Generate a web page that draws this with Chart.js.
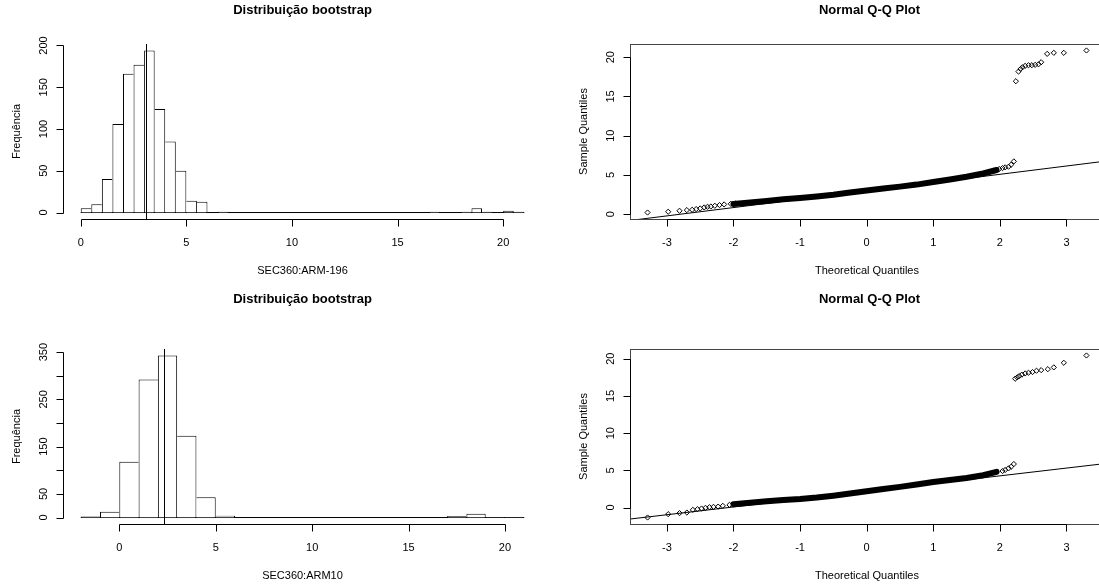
<!DOCTYPE html>
<html>
<head>
<meta charset="utf-8">
<title>Distribuição bootstrap</title>
<script src="https://cdn.jsdelivr.net/npm/chart.js@4.4.1/dist/chart.umd.min.js"></script>
<style>
html, body { margin: 0; padding: 0; background: #fff; width: 1099px; height: 586px; overflow: hidden; }
canvas { position: absolute; }
</style>
</head>
<body>
<canvas id="hist1" width="550" height="290" style="left:0px;top:0px"></canvas>
<canvas id="qq1" width="560" height="290" style="left:549px;top:0px"></canvas>
<canvas id="hist2" width="550" height="296" style="left:0px;top:290px"></canvas>
<canvas id="qq2" width="560" height="296" style="left:549px;top:290px"></canvas>
<script>
var fonteR = '"Liberation Sans", Arial, Helvetica, sans-serif';

// histograma SEC360:ARM-196 (classes de 0.5 a partir de 0)
var hist1Inicio = 0;
var hist1Largura = 0.5;
var hist1Contagens = [5, 10, 40, 106, 166, 177, 194, 124, 85, 50, 14, 13, 0, 1,
	0, 0, 0, 0, 0, 0, 0, 0, 0, 0, 0, 0, 0, 0, 0, 0, 0, 0, 0,
	1, 0, 0, 1, 5, 1, 0, 2, 1];
var hist1Media = 3.11;
var hist1XTicks = [0, 5, 10, 15, 20];
var hist1YTicks = [0, 50, 100, 150, 200];
var hist1YRotulos = ['0', '50', '100', '150', '200'];

// histograma SEC360:ARM10 (classes de 1 a partir de -2)
var hist2Inicio = -2;
var hist2Largura = 1;
var hist2Contagens = [2, 12, 118, 292, 343, 173, 43, 4,
	0, 0, 0, 0, 0, 0, 0, 0, 0, 0, 0,
	3, 8, 1, 1];
var hist2Media = 2.33;
var hist2XTicks = [0, 5, 10, 15, 20];
var hist2YTicks = [0, 50, 100, 150, 200, 250, 300, 350];
var hist2YRotulos = ['0', '50', '', '150', '', '250', '', '350'];

// Q-Q 1: pontos visiveis (caudas) e faixa densa do meio
var qq1X = [-3.29, -2.98, -2.81, -2.70, -2.62, -2.56, -2.50, -2.44, -2.39, -2.34, -2.28, -2.21, -2.14, -2.04, -1.97,
	1.99, 2.04, 2.08, 2.13, 2.17, 2.21,
	2.24, 2.28, 2.31, 2.34, 2.38, 2.43, 2.48, 2.53, 2.58, 2.62, 2.71, 2.81, 2.96, 3.30];
var qq1Y = [0.20, 0.30, 0.42, 0.51, 0.55, 0.64, 0.72, 0.85, 0.93, 0.97, 1.06, 1.15, 1.23, 1.31, 1.35,
	5.75, 5.87, 5.96, 6.04, 6.30, 6.72,
	16.94, 18.17, 18.50, 18.72, 18.90, 18.98, 18.98, 19.03, 19.10, 19.36, 20.43, 20.56, 20.56, 20.86];
var qq1FaixaX = [-2.0, -1.75, -1.5, -1.25, -1.0, -0.75, -0.5, -0.25, 0, 0.25, 0.5, 0.75, 1.0, 1.25, 1.5, 1.75, 1.95];
var qq1FaixaY = [1.30, 1.48, 1.68, 1.88, 2.05, 2.25, 2.47, 2.74, 3.00, 3.25, 3.50, 3.76, 4.08, 4.40, 4.76, 5.18, 5.62];
var qq1Intercepto = 2.95;
var qq1Inclinacao = 1.06;

// Q-Q 2
var qq2X = [-3.29, -2.98, -2.81, -2.70, -2.61, -2.54, -2.48, -2.42, -2.36, -2.30, -2.23, -2.16, -2.06, -1.95,
	2.04, 2.08, 2.13, 2.17, 2.21,
	2.23, 2.26, 2.29, 2.33, 2.38, 2.43, 2.49, 2.55, 2.62, 2.72, 2.81, 2.96, 3.30];
var qq2Y = [-1.34, -0.89, -0.75, -0.67, -0.31, -0.22, -0.13, -0.04, 0.05, 0.09, 0.13, 0.23, 0.36, 0.50,
	4.91, 5.05, 5.27, 5.49, 5.85,
	17.32, 17.50, 17.67, 17.86, 18.03, 18.12, 18.21, 18.39, 18.47, 18.60, 18.84, 19.46, 20.44];
var qq2FaixaX = [-2.0, -1.75, -1.5, -1.25, -1.0, -0.75, -0.5, -0.25, 0, 0.25, 0.5, 0.75, 1.0, 1.25, 1.5, 1.75, 1.95];
var qq2FaixaY = [0.45, 0.65, 0.85, 1.00, 1.15, 1.35, 1.60, 1.90, 2.20, 2.50, 2.78, 3.10, 3.43, 3.70, 3.98, 4.35, 4.80];
var qq2Intercepto = 2.17;
var qq2Inclinacao = 1.045;

var qqXTicks = [-3, -2, -1, 0, 1, 2, 3];
var qqYTicks = [0, 5, 10, 15, 20];

// eixos no estilo do R: linha so entre o primeiro e o ultimo tick, ticks para fora
var eixosR = {
	id: 'eixosR',
	afterDraw: function(chart, args, o){
		var ctx = chart.ctx;
		var area = chart.chartArea;
		var sx = chart.scales.x;
		var sy = chart.scales.y;
		var i, p;
		ctx.save();
		ctx.strokeStyle = '#000';
		ctx.fillStyle = '#000';
		ctx.lineWidth = 1;

		if(o.media != null){
			p = Math.round(sx.getPixelForValue(o.media)) + 0.5;
			ctx.beginPath();
			ctx.moveTo(p, area.top);
			ctx.lineTo(p, area.bottom);
			ctx.stroke();
		}
		if(o.caixa){
			ctx.strokeStyle = '#444';
			ctx.strokeRect(Math.round(area.left) + 0.5, Math.round(area.top) + 0.5,
				Math.round(area.right - area.left), Math.round(area.bottom - area.top));
			ctx.strokeStyle = '#000';
		}

		// eixo x
		var yb = Math.round(area.bottom) + 0.5;
		ctx.beginPath();
		ctx.moveTo(Math.round(sx.getPixelForValue(o.xTicks[0])) + 0.5, yb);
		ctx.lineTo(Math.round(sx.getPixelForValue(o.xTicks[o.xTicks.length - 1])) + 0.5, yb);
		for(i = 0; i < o.xTicks.length; i++){
			p = Math.round(sx.getPixelForValue(o.xTicks[i])) + 0.5;
			ctx.moveTo(p, yb);
			ctx.lineTo(p, yb + 7);
		}
		ctx.stroke();
		ctx.font = '11px ' + fonteR;
		ctx.textAlign = 'center';
		ctx.textBaseline = 'middle';
		for(i = 0; i < o.xTicks.length; i++){
			ctx.fillText(String(o.xTicks[i]), sx.getPixelForValue(o.xTicks[i]), yb + 23.5);
		}

		// eixo y
		var xl = Math.round(area.left) + 0.5;
		ctx.beginPath();
		ctx.moveTo(xl, Math.round(sy.getPixelForValue(o.yTicks[0])) + 0.5);
		ctx.lineTo(xl, Math.round(sy.getPixelForValue(o.yTicks[o.yTicks.length - 1])) + 0.5);
		for(i = 0; i < o.yTicks.length; i++){
			p = Math.round(sy.getPixelForValue(o.yTicks[i])) + 0.5;
			ctx.moveTo(xl, p);
			ctx.lineTo(xl - 7, p);
		}
		ctx.stroke();
		for(i = 0; i < o.yTicks.length; i++){
			var rot = o.yRotulos ? o.yRotulos[i] : String(o.yTicks[i]);
			if(rot === '') continue;
			ctx.save();
			ctx.translate(xl - 20, sy.getPixelForValue(o.yTicks[i]));
			ctx.rotate(-Math.PI / 2);
			ctx.fillText(rot, 0, 0);
			ctx.restore();
		}

		// titulos dos eixos
		ctx.fillText(o.xTitulo, (area.left + area.right) / 2, yb + 51.5);
		ctx.save();
		ctx.translate(xl - 47, (area.top + area.bottom) / 2);
		ctx.rotate(-Math.PI / 2);
		ctx.fillText(o.yTitulo, 0, 0);
		ctx.restore();
		ctx.restore();
	}
};

function montarLayout(pos){
	return {
		padding: {
			left: pos.plotL - pos.left,
			right: pos.left + pos.w - pos.plotR,
			top: 0,
			bottom: pos.top + pos.h - pos.plotB
		}
	};
}

function montarTitulo(texto, pos){
	return {
		display: true,
		text: texto,
		color: '#000',
		font: { family: fonteR, size: 13, weight: 'bold', lineHeight: 1.2 },
		padding: { top: pos.tituloY - pos.top - 7.8, bottom: pos.plotT - pos.tituloY - 7.8 }
	};
}

function criarHistograma(canvasId, pos, inicio, largura, contagens, media, xTicks, yTicks, yRotulos, xTitulo){
	var dados = [];
	for(var i = 0; i < contagens.length; i++){
		dados.push({ x: inicio + largura * (i + 0.5), y: contagens[i] });
	}
	var fim = inicio + largura * contagens.length;
	var maxC = Math.max.apply(null, contagens);
	var ext = 0.04 * (fim - inicio);

	var config = {};
	config.type = 'bar';
	config.data = {};
	config.data.datasets = [];
	config.data.datasets[0] = {
		type: 'bar',
		data: dados,
		backgroundColor: '#fff',
		borderColor: '#000',
		borderSkipped: false,
		inflateAmount: 0,
		barPercentage: 1,
		categoryPercentage: 1,
		// cada aresta comum desenhada uma vez so, pela barra mais alta
		borderWidth: function(c){
			var k = c.dataIndex;
			if(k === undefined) return 1;
			var atual = contagens[k];
			if(atual === 0) return 0;
			var ant = k > 0 ? contagens[k - 1] : 0;
			var prox = k < contagens.length - 1 ? contagens[k + 1] : 0;
			return { top: 1, bottom: 0, left: atual > ant ? 1 : 0, right: atual >= prox ? 1 : 0 };
		}
	};
	config.data.datasets[1] = {
		type: 'line',
		data: [{ x: inicio, y: 0 }, { x: fim, y: 0 }],
		borderColor: '#000',
		borderWidth: 1,
		pointRadius: 0
	};
	config.options = {
		responsive: false,
		animation: false,
		devicePixelRatio: 1,
		events: [],
		layout: montarLayout(pos),
		scales: {
			x: { type: 'linear', display: false, offset: false, min: inicio - ext, max: fim + ext, ticks: { stepSize: 1000 } },
			y: { type: 'linear', display: false, min: -0.04 * maxC, max: 1.04 * maxC }
		},
		plugins: {
			legend: { display: false },
			tooltip: { enabled: false },
			title: montarTitulo('Distribuição bootstrap', pos),
			eixosR: { xTicks: xTicks, yTicks: yTicks, yRotulos: yRotulos, xTitulo: xTitulo, yTitulo: 'Frequência', caixa: false, media: media }
		}
	};
	config.plugins = [eixosR];
	return new Chart(document.getElementById(canvasId), config);
}

function criarQQ(canvasId, pos, px, py, faixaX, faixaY, intercepto, inclinacao){
	var pontos = [], faixa = [], i;
	for(i = 0; i < px.length; i++) pontos.push({ x: px[i], y: py[i] });
	for(i = 0; i < faixaX.length; i++) faixa.push({ x: faixaX[i], y: faixaY[i] });
	var xmin = Math.min.apply(null, px), xmax = Math.max.apply(null, px);
	var ymin = Math.min.apply(null, py), ymax = Math.max.apply(null, py);
	var ex = 0.04 * (xmax - xmin), ey = 0.04 * (ymax - ymin);
	var x0 = xmin - ex, x1 = xmax + ex;

	var config = {};
	config.type = 'scatter';
	config.data = {};
	config.data.datasets = [];
	config.data.datasets[0] = {
		data: pontos,
		pointStyle: 'rectRot',
		pointRadius: 2.6,
		borderWidth: 1,
		borderColor: '#000',
		backgroundColor: 'rgba(0,0,0,0)'
	};
	config.data.datasets[1] = {
		data: faixa,
		showLine: true,
		borderColor: '#000',
		borderWidth: 6,
		borderCapStyle: 'round',
		pointRadius: 0
	};
	config.data.datasets[2] = {
		data: [{ x: x0, y: intercepto + inclinacao * x0 }, { x: x1, y: intercepto + inclinacao * x1 }],
		showLine: true,
		borderColor: '#000',
		borderWidth: 1,
		pointRadius: 0
	};
	config.options = {
		responsive: false,
		animation: false,
		devicePixelRatio: 1,
		events: [],
		layout: montarLayout(pos),
		scales: {
			x: { type: 'linear', display: false, min: x0, max: x1 },
			y: { type: 'linear', display: false, min: ymin - ey, max: ymax + ey }
		},
		plugins: {
			legend: { display: false },
			tooltip: { enabled: false },
			title: montarTitulo('Normal Q-Q Plot', pos),
			eixosR: { xTicks: qqXTicks, yTicks: qqYTicks, xTitulo: 'Theoretical Quantiles', yTitulo: 'Sample Quantiles', caixa: true, media: null }
		}
	};
	config.plugins = [eixosR];
	return new Chart(document.getElementById(canvasId), config);
}

criarHistograma('hist1', { left: 0, top: 0, w: 550, h: 290, plotL: 63, plotR: 542, plotT: 44, plotB: 219, tituloY: 10 },
	hist1Inicio, hist1Largura, hist1Contagens, hist1Media, hist1XTicks, hist1YTicks, hist1YRotulos, 'SEC360:ARM-196');
criarQQ('qq1', { left: 549, top: 0, w: 560, h: 290, plotL: 630, plotR: 1109, plotT: 44, plotB: 219, tituloY: 10 },
	qq1X, qq1Y, qq1FaixaX, qq1FaixaY, qq1Intercepto, qq1Inclinacao);
criarHistograma('hist2', { left: 0, top: 290, w: 550, h: 296, plotL: 63, plotR: 542, plotT: 349, plotB: 524, tituloY: 299 },
	hist2Inicio, hist2Largura, hist2Contagens, hist2Media, hist2XTicks, hist2YTicks, hist2YRotulos, 'SEC360:ARM10');
criarQQ('qq2', { left: 549, top: 290, w: 560, h: 296, plotL: 630, plotR: 1109, plotT: 349, plotB: 524, tituloY: 299 },
	qq2X, qq2Y, qq2FaixaX, qq2FaixaY, qq2Intercepto, qq2Inclinacao);
</script>
</body>
</html>
